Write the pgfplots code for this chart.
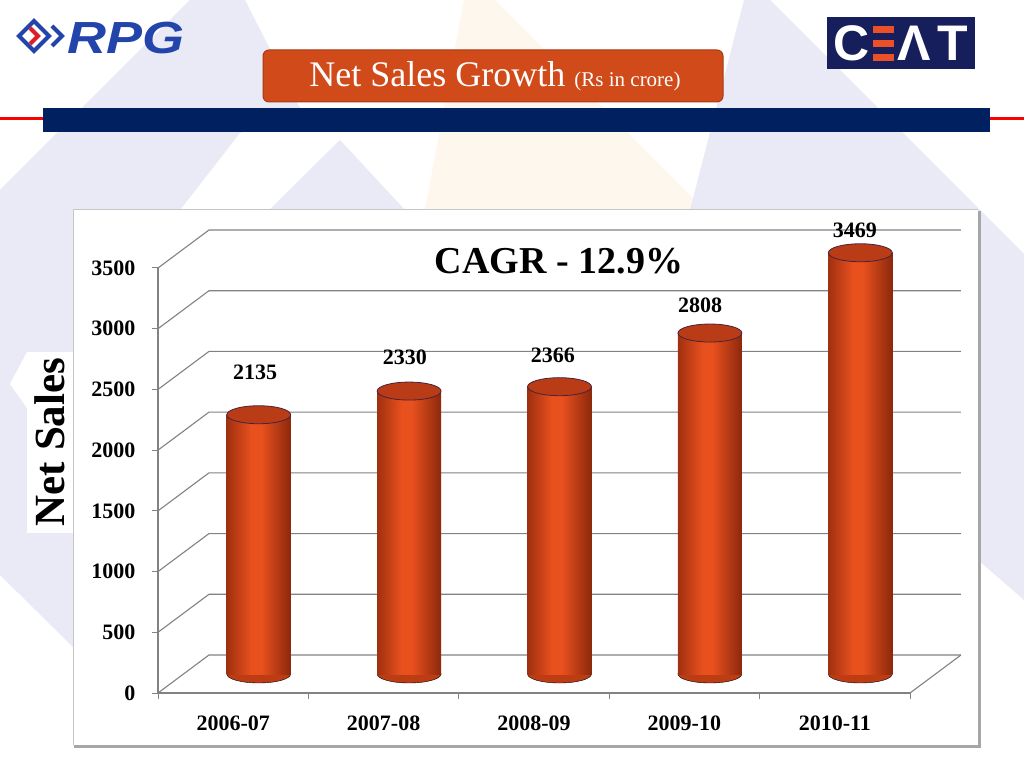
\documentclass[border=0pt]{standalone}
\usepackage{fontspec}
\setmainfont{Liberation Serif}
\newfontfamily\sansf{Liberation Sans}
\usepackage{pgfplots}
\pgfplotsset{compat=1.18}
\definecolor{lav}{RGB}{234,234,247}
\definecolor{peach}{RGB}{254,247,237}
\definecolor{navy}{RGB}{0,32,96}
\definecolor{titlebg}{RGB}{208,74,26}
\definecolor{titleedge}{RGB}{165,58,20}
\definecolor{cylA}{RGB}{160,48,16}
\definecolor{cylB}{RGB}{232,80,30}
\definecolor{cylC}{RGB}{140,40,12}
\definecolor{cylbot}{RGB}{190,60,20}
\definecolor{cap}{RGB}{186,60,22}
\definecolor{capedge}{RGB}{70,35,60}
\definecolor{gridc}{RGB}{130,130,130}
\definecolor{rpgblue}{RGB}{35,68,170}
\definecolor{rpgred}{RGB}{220,30,40}
\definecolor{ceatnavy}{RGB}{22,30,92}
\definecolor{ceatorange}{RGB}{236,80,40}
\pgfdeclarehorizontalshading{cyl}{100bp}{color(0bp)=(cylA); color(25bp)=(cylA); color(44bp)=(cylB); color(52bp)=(cylB); color(75bp)=(cylC); color(100bp)=(cylC)}
\pgfplotsset{cylaxis/.style={at={(183.5pt,94pt)}, anchor=south west, scale only axis,
  width=752pt, height=425pt, xmin=0.5, xmax=5.5, ymin=0, ymax=3500, clip=false, hide axis}}
\begin{document}
\begin{tikzpicture}
\useasboundingbox (0,0) rectangle (1024pt,768pt);
\begin{scope}[x=1pt,y=-1pt,shift={(0pt,768pt)}]
 \fill[white] (0,0) rectangle (1024,768);
 \fill[lav] (0,190) -- (190,0) -- (245,0) -- (300,108) -- (240,133) -- (180,210) -- (73,380) -- (73,647) -- (0,575) -- cycle;
 \fill[white] (27,352) -- (10,384) -- (27,408) -- cycle;
 \fill[lav] (340,140) -- (269,210) -- (405,210) -- cycle;
 \fill[peach] (464,0) -- (495,0) -- (705,210) -- (425,210) -- cycle;
 \fill[lav] (744,0) -- (770,0) -- (1024,254) -- (1024,600) -- (978,560) -- (978,210) -- (690,210) -- cycle;
 % red lines and navy bar
 \draw[red, line width=3] (0,119) -- (43,119);
 \draw[red, line width=3] (990,119) -- (1024,119);
 \fill[navy] (43,108) rectangle (990,132);
 % title box
 \draw[titleedge, fill=titlebg, rounded corners=6, line width=1] (263,50) rectangle (723,102);
 \node[text=white, inner sep=0] at (495,76) {\fontsize{36}{40}\selectfont Net Sales Growth \fontsize{21}{24}\selectfont(Rs in crore)};
 % RPG logo
 \draw[rpgblue, line width=4] (34,21) -- (49,36) -- (34,51) -- (19,36) -- cycle;
 \draw[rpgred, line width=4] (30,28) -- (38,36) -- (30,44);
 \draw[rpgblue, line width=4] (52,26) -- (62,36) -- (52,46);
 \node[text=rpgblue, inner sep=0, anchor=west] at (67,38) {\scalebox{1.2}[1]{\sansf\bfseries\itshape\fontsize{45}{45}\selectfont RPG}};
 % CEAT logo
 \fill[ceatnavy] (827,17) rectangle (975,69);
 \node[text=white, inner sep=0] at (852,43) {\sansf\bfseries\fontsize{50}{50}\selectfont C};
 \fill[ceatorange] (873,26) rectangle (894,33);
 \fill[ceatorange] (873,40) rectangle (894,47);
 \fill[ceatorange] (873,54) rectangle (894,61);
 \node[text=white, inner sep=0] at (914,43) {\sansf\bfseries\fontsize{50}{50}\selectfont Λ};
 \node[text=white, inner sep=0] at (953,43) {\sansf\bfseries\fontsize{50}{50}\selectfont T};
 % chart frame
 \fill[white] (73,210) rectangle (978,745);
 \draw[gray!45, line width=1] (73,745) -- (73,210) -- (978,210);
 \draw[gray!70, line width=3] (979,211) -- (979,746) -- (74,746);
 % Net Sales label
 \fill[white] (27,352) rectangle (73,533);
 \node[rotate=90, inner sep=0] at (50,442) {\bfseries\fontsize{43}{43}\selectfont Net Sales};
 % CAGR
 \node[inner sep=0] at (559,261) {\bfseries\fontsize{38}{38}\selectfont CAGR - 12.9\%};
\end{scope}

\begin{axis}[at={(158pt,75pt)}, anchor=south west, scale only axis,
  width=752pt, height=425pt, xmin=0.5, xmax=5.5, ymin=0, ymax=3500, clip=false,
  axis x line=bottom, axis y line=left,
  axis line style={-, draw=gridc, line width=1.2pt},
  xtick={0.5,1.5,...,5.5}, x tick label as interval,
  xticklabels={2006-07,2007-08,2008-09,2009-10,2010-11},
  ytick={0,500,...,3500},
  tick align=outside, major tick length=6pt,
  tick style={gridc, line width=1pt},
  ticklabel style={font=\bfseries\fontsize{22}{24}\selectfont},
  /pgf/number format/assume math mode=true,
  /pgf/number format/1000 sep={},
  yticklabel style={xshift=-13pt},
  xticklabel style={yshift=-13pt}]
 \addplot[gridc, line width=1.1pt, mark=none] coordinates {(0.5,0) (0.839,313) (5.839,313)};
 \addplot[gridc, line width=1.1pt, mark=none] coordinates {(0.5,500) (0.839,813) (5.839,813)};
 \addplot[gridc, line width=1.1pt, mark=none] coordinates {(0.5,1000) (0.839,1313) (5.839,1313)};
 \addplot[gridc, line width=1.1pt, mark=none] coordinates {(0.5,1500) (0.839,1813) (5.839,1813)};
 \addplot[gridc, line width=1.1pt, mark=none] coordinates {(0.5,2000) (0.839,2313) (5.839,2313)};
 \addplot[gridc, line width=1.1pt, mark=none] coordinates {(0.5,2500) (0.839,2813) (5.839,2813)};
 \addplot[gridc, line width=1.1pt, mark=none] coordinates {(0.5,3000) (0.839,3313) (5.839,3313)};
 \addplot[gridc, line width=1.1pt, mark=none] coordinates {(0.5,3500) (0.839,3813) (5.839,3813)};
 \addplot[gridc, line width=1.1pt, mark=none] coordinates {(5.5,0) (5.839,313)};
 \addplot[only marks, mark=none, nodes near coords, point meta=explicit symbolic,
   every node near coord/.append style={anchor=center, inner sep=0, font=\bfseries\fontsize{22}{24}\selectfont, text=black}]
   table[meta=lab] {
x y lab
1.145 2643 2135
2.142 2767 2330
3.126 2783 2366
4.104 3195 2808
5.134 3813 3469
};
\end{axis}

% cylinder bottoms
\begin{axis}[cylaxis]
 \addplot[only marks, mark=*, mark size=9pt, mark options={xscale=3.55, fill=cylbot, draw=none}]
   coordinates {(1,0) (2,0) (3,0) (4,0) (5,0)};
\end{axis}

% cylinder bodies and tops
\begin{axis}[cylaxis]
 \addplot[ybar, bar width=64pt, bar shift=0pt, draw=none, shade, shading=cyl] coordinates {(1,2135)};
 \addplot[ybar, bar width=64pt, bar shift=0pt, draw=none, shade, shading=cyl] coordinates {(2,2330)};
 \addplot[ybar, bar width=64pt, bar shift=0pt, draw=none, shade, shading=cyl] coordinates {(3,2366)};
 \addplot[ybar, bar width=64pt, bar shift=0pt, draw=none, shade, shading=cyl] coordinates {(4,2808)};
 \addplot[ybar, bar width=64pt, bar shift=0pt, draw=none, shade, shading=cyl] coordinates {(5,3469)};
 \addplot[only marks, mark=*, mark size=9pt, mark options={xscale=3.55, fill=cap, draw=capedge, line width=0.8pt}]
   coordinates {(1,2135) (2,2330) (3,2366) (4,2808) (5,3469)};
\end{axis}
\end{tikzpicture}
\end{document}
